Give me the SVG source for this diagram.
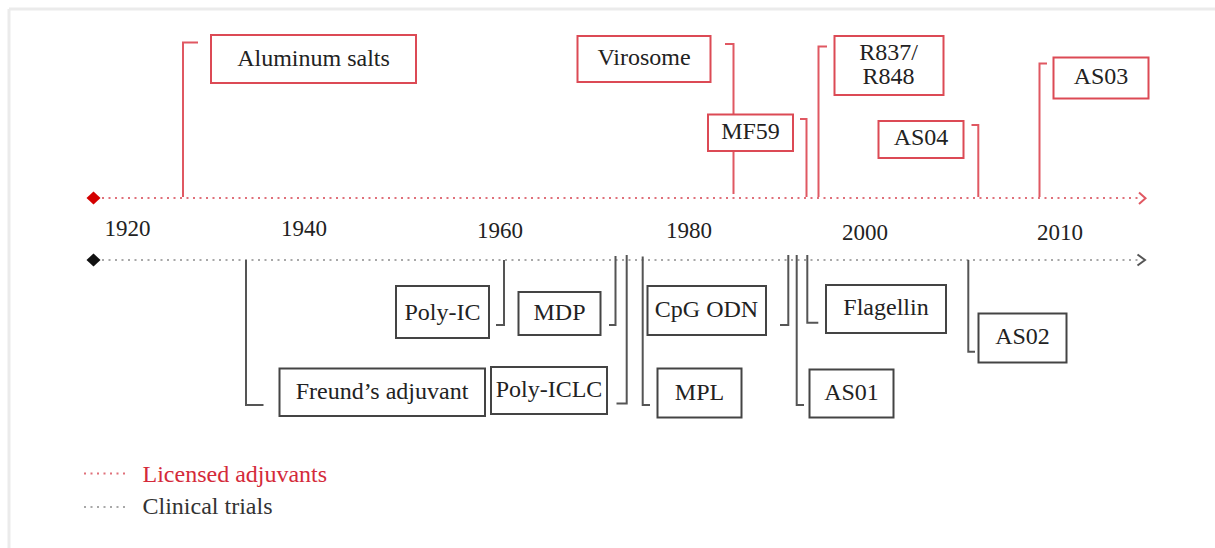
<svg xmlns="http://www.w3.org/2000/svg" width="1215" height="548" viewBox="0 0 1215 548">
<style>
text{font-family:"Liberation Serif","Times New Roman",serif;fill:#222;}
.lbl{font-size:24px;text-anchor:middle;}
.yr{font-size:23px;text-anchor:middle;}
.leg{font-size:24px;}
.rbox{fill:#fff;stroke:#dc4a55;stroke-width:2;}
.kbox{fill:#fff;stroke:#444;stroke-width:2;}
.rc{fill:none;stroke:#e05862;stroke-width:2;}
.kc{fill:none;stroke:#555;stroke-width:2;}
.rdot{stroke:#e0707a;stroke-width:2;stroke-dasharray:2 4.5;fill:none;}
.kdot{stroke:#a8a8a8;stroke-width:2;stroke-dasharray:2 4.5;fill:none;}
</style>
<rect x="0" y="0" width="1215" height="548" fill="#fff"/>
<g id="frame" fill="none" stroke="#ebebeb" stroke-width="3">
<line x1="9" y1="9" x2="1215" y2="9"/>
<line x1="9" y1="9" x2="9" y2="548"/>
</g>
<g id="axes">
<line class="rdot" x1="102" y1="198" x2="1142" y2="198"/>
<polygon points="86.5,198 93.5,191.5 100.5,198 93.5,204.5" fill="#d40000"/>
<polyline points="1139,192.5 1145.5,198.3 1139,204" fill="none" stroke="#e05862" stroke-width="2"/>
<line class="kdot" x1="102" y1="260" x2="1142" y2="260"/>
<polygon points="86.5,260 93.5,253.5 100.5,260 93.5,266.5" fill="#111"/>
<polyline points="1137.5,254.5 1145,260 1137.5,265.5" fill="none" stroke="#555" stroke-width="2"/>
</g>
<g id="years">
<text class="yr" x="127.5" y="236">1920</text>
<text class="yr" x="304" y="236">1940</text>
<text class="yr" x="500" y="238">1960</text>
<text class="yr" x="689" y="238">1980</text>
<text class="yr" x="865" y="240">2000</text>
<text class="yr" x="1060" y="240">2010</text>
</g>
<g id="connectors">
<polyline class="rc" points="198,42.5 183,42.5 183,197"/>
<polyline class="rc" points="725,44 733.5,44 733.5,194"/>
<polyline class="rc" points="800,119 806.5,119 806.5,197"/>
<polyline class="rc" points="827,46.5 818.5,46.5 818.5,197"/>
<polyline class="rc" points="971.5,125 978.3,125 978.3,197"/>
<polyline class="rc" points="1047,63.5 1039.5,63.5 1039.5,197"/>
<polyline class="kc" points="246,260 246,405 263.5,405"/>
<polyline class="kc" points="504,260 504,325 496,325"/>
<polyline class="kc" points="615.5,256 615.5,325 609,325"/>
<polyline class="kc" points="626.7,255 626.7,403.5 616.5,403.5"/>
<polyline class="kc" points="642.7,256.5 642.7,405 650,405"/>
<polyline class="kc" points="788.3,255 788.3,325 780,325"/>
<polyline class="kc" points="796.7,255 796.7,405 804,405"/>
<polyline class="kc" points="807.3,255 807.3,322.7 818.3,322.7"/>
<polyline class="kc" points="968.3,260 968.3,351.7 975,351.7"/>
</g>
<g id="aluminum-salts"><rect class="rbox" x="211" y="35" width="205" height="48"/><text class="lbl" x="313.5" y="66">Aluminum salts</text></g>
<g id="virosome"><rect class="rbox" x="577.5" y="36" width="133" height="46"/><text class="lbl" x="644" y="65">Virosome</text></g>
<g id="mf59"><rect class="rbox" x="708" y="114.5" width="85" height="36.5"/><text class="lbl" x="750.5" y="138.5">MF59</text></g>
<g id="r837-r848"><rect class="rbox" x="834.5" y="36" width="109" height="59"/><text class="lbl" x="888.5" y="60">R837/</text><text class="lbl" x="888.5" y="83.5">R848</text></g>
<g id="as04"><rect class="rbox" x="878.5" y="121" width="85" height="37"/><text class="lbl" x="921" y="145">AS04</text></g>
<g id="as03"><rect class="rbox" x="1053.5" y="57.5" width="95" height="41"/><text class="lbl" x="1101" y="83.5">AS03</text></g>
<g id="poly-ic"><rect class="kbox" x="396" y="286" width="93" height="52"/><text class="lbl" x="442.5" y="320">Poly-IC</text></g>
<g id="mdp"><rect class="kbox" x="518.5" y="292" width="82" height="43"/><text class="lbl" x="559.5" y="320">MDP</text></g>
<g id="freunds-adjuvant"><rect class="kbox" x="279.5" y="368.5" width="205.5" height="47.5"/><text class="lbl" x="382" y="398.5">Freund’s adjuvant</text></g>
<g id="poly-iclc"><rect class="kbox" x="491" y="367" width="116" height="47"/><text class="lbl" x="549" y="397">Poly-ICLC</text></g>
<g id="cpg-odn"><rect class="kbox" x="647.5" y="286" width="118.5" height="49"/><text class="lbl" x="706.5" y="317">CpG ODN</text></g>
<g id="mpl"><rect class="kbox" x="657.5" y="368.5" width="84" height="49"/><text class="lbl" x="699.5" y="400">MPL</text></g>
<g id="flagellin"><rect class="kbox" x="826" y="285" width="120" height="48"/><text class="lbl" x="886" y="315">Flagellin</text></g>
<g id="as01"><rect class="kbox" x="809.5" y="369.5" width="84" height="48"/><text class="lbl" x="851.5" y="400">AS01</text></g>
<g id="as02"><rect class="kbox" x="978.5" y="313.5" width="88" height="49"/><text class="lbl" x="1022.5" y="343.5">AS02</text></g>
<g id="legend">
<line class="rdot" x1="84" y1="473.5" x2="126" y2="473.5"/>
<text class="leg" x="142.5" y="481.5" style="fill:#d42a3a">Licensed adjuvants</text>
<line class="kdot" x1="84" y1="507" x2="126" y2="507"/>
<text class="leg" x="142.5" y="514" style="fill:#333">Clinical trials</text>
</g>
</svg>
